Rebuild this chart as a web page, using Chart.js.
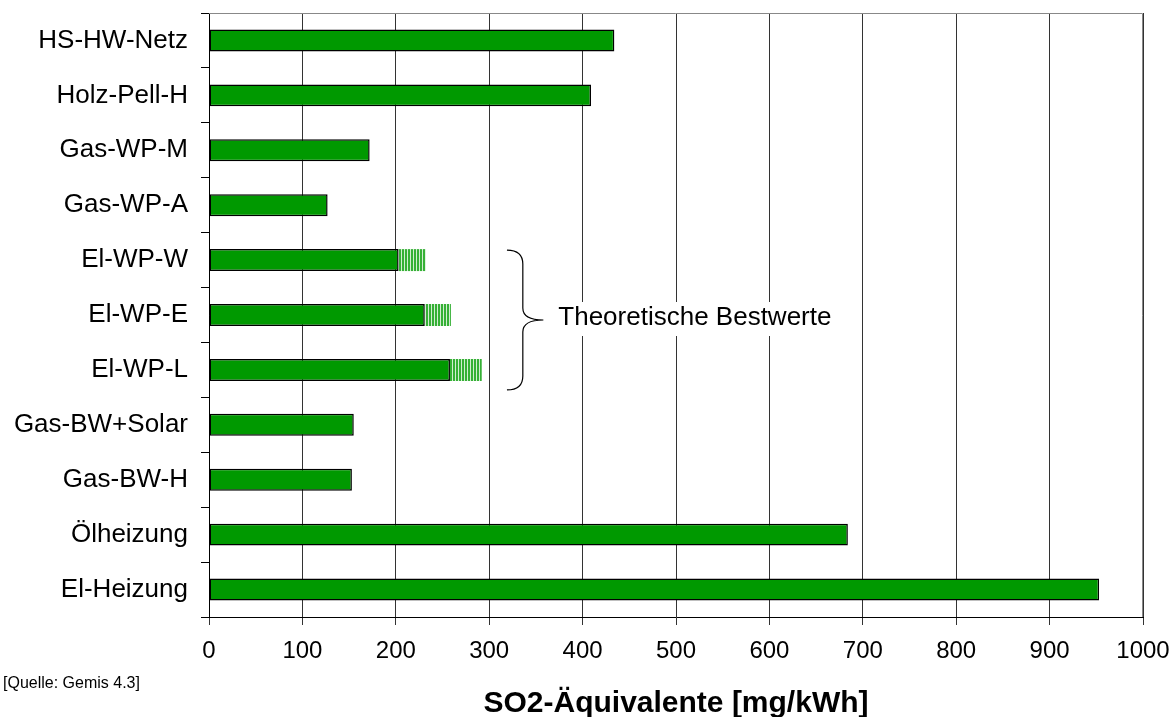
<!DOCTYPE html>
<html>
<head>
<meta charset="utf-8">
<script src="https://cdn.jsdelivr.net/npm/chart.js@4/dist/chart.umd.min.js"></script>
<style>
  html, body { margin: 0; padding: 0; background: #fff; }
  #wrap { position: relative; width: 1176px; height: 717px; }
  #quelle { position: absolute; left: 3px; top: 674px; font: 16px "Liberation Sans", Arial, sans-serif; color: #000; }
</style>
</head>
<body>
<div id="wrap">
  <canvas id="myChart" width="1176" height="717"></canvas>
  <div id="quelle">[Quelle: Gemis 4.3]</div>
</div>
<script>
// Daten (von oben nach unten)
const kategorien = ["HS-HW-Netz", "Holz-Pell-H", "Gas-WP-M", "Gas-WP-A", "El-WP-W", "El-WP-E", "El-WP-L", "Gas-BW+Solar", "Gas-BW-H", "Ölheizung", "El-Heizung"];
const werte = [434, 409, 172, 127, 203, 231, 258, 155, 153, 684, 953];
// schraffierter Zusatz (theoretische Bestwerte)
const zusatz = [0, 0, 0, 0, 29, 28, 34, 0, 0, 0, 0];
const xTicks = [0, 100, 200, 300, 400, 500, 600, 700, 800, 900, 1000];
const achsenTitel = "SO2-Äquivalente [mg/kWh]";
const hinweis = "Theoretische Bestwerte";

const schrift = '"Liberation Sans", Arial, sans-serif';

function makePattern() {
    const c = document.createElement("canvas");
    c.width = 3; c.height = 4;
    const g = c.getContext("2d");
    g.fillStyle = "#d2edd2";
    g.fillRect(0, 0, 3, 4);
    g.fillStyle = "#36b036";
    g.fillRect(0, 0, 2, 4);
    return g.createPattern(c, "repeat");
}

// Klammer + Text "Theoretische Bestwerte" + Achsentitel
const klammerPlugin = {
    id: "klammer",
    afterDatasetsDraw(chart) {
        const ctx = chart.ctx;
        const x = chart.scales.x, y = chart.scales.y;
        const a = chart.chartArea;
        const x0 = x.getPixelForValue(319);
        const xm = x.getPixelForValue(336);
        const x1 = x.getPixelForValue(358);
        const y0 = y.getPixelForValue(4) - 10;
        const y1 = y.getPixelForValue(6) + 20;
        const ym = (y0 + y1) / 2;
        ctx.save();
        ctx.strokeStyle = "#000";
        ctx.lineWidth = 1.2;
        ctx.beginPath();
        ctx.moveTo(x0, y0);
        ctx.quadraticCurveTo(xm, y0, xm, y0 + 14);
        ctx.lineTo(xm, ym - 12);
        ctx.quadraticCurveTo(xm, ym, x1, ym);
        ctx.quadraticCurveTo(xm, ym, xm, ym + 12);
        ctx.lineTo(xm, y1 - 14);
        ctx.quadraticCurveTo(xm, y1, x0, y1);
        ctx.stroke();

        ctx.font = "26px " + schrift;
        const tx = x.getPixelForValue(374);
        const w = ctx.measureText(hinweis).width;
        ctx.fillStyle = "#fff";
        ctx.fillRect(tx - 3, ym - 18, w + 6, 34);
        ctx.fillStyle = "#000";
        ctx.textBaseline = "middle";
        ctx.fillText(hinweis, tx, ym - 2);

        // Achsentitel
        ctx.font = "bold 30px " + schrift;
        ctx.textAlign = "center";
        ctx.textBaseline = "alphabetic";
        ctx.fillText(achsenTitel, (a.left + a.right) / 2, 712);
        ctx.restore();
    }
};

// Rahmen oben und rechts
const rahmenPlugin = {
    id: "rahmen",
    beforeDatasetsDraw(chart) {
        const a = chart.chartArea, ctx = chart.ctx;
        ctx.save();
        ctx.strokeStyle = "#888";
        ctx.lineWidth = 1;
        ctx.beginPath();
        ctx.moveTo(a.left, a.top + 0.5);
        ctx.lineTo(a.right - 0.5, a.top + 0.5);
        ctx.lineTo(a.right - 0.5, a.bottom);
        ctx.stroke();
        ctx.restore();
    }
};

const ctx = document.getElementById("myChart").getContext("2d");
new Chart(ctx, {
    type: "bar",
    data: {
        labels: kategorien,
        datasets: [
            {
                data: werte,
                backgroundColor: "#009900",
                borderColor: "#000",
                borderWidth: 1.5,
                borderSkipped: false,
                barPercentage: 0.4,
                categoryPercentage: 1.0
            },
            {
                data: zusatz,
                backgroundColor: makePattern(),
                borderWidth: 0,
                barPercentage: 0.4,
                categoryPercentage: 1.0
            }
        ]
    },
    plugins: [rahmenPlugin, klammerPlugin],
    options: {
        indexAxis: "y",
        responsive: false,
        animation: false,
        layout: { padding: { top: 13, right: 33, left: 0, bottom: 0 } },
        plugins: { legend: { display: false }, tooltip: { enabled: false } },
        scales: {
            x: {
                min: 0,
                max: 1000,
                stacked: true,
                afterBuildTicks(s) { s.ticks = xTicks.map(v => ({ value: v })); },
                afterFit(s) { s.height = 100; s.paddingLeft = 0; s.paddingRight = 0; },
                grid: { color: "#333", lineWidth: 1, tickLength: 8, drawTicks: true },
                border: { color: "#000", width: 1 },
                ticks: {
                    color: "#000",
                    font: { size: 24, family: schrift },
                    padding: 12,
                    maxRotation: 0,
                    callback: v => String(v)
                }
            },
            y: {
                stacked: true,
                afterFit(s) { s.width = 209; s.paddingTop = 0; s.paddingBottom = 0; },
                grid: { offset: true, drawOnChartArea: false, tickLength: 8, color: "#000" },
                border: { color: "#000", width: 1 },
                ticks: { color: "#000", font: { size: 26, family: schrift }, padding: 13 }
            }
        }
    }
});
</script>
</body>
</html>
